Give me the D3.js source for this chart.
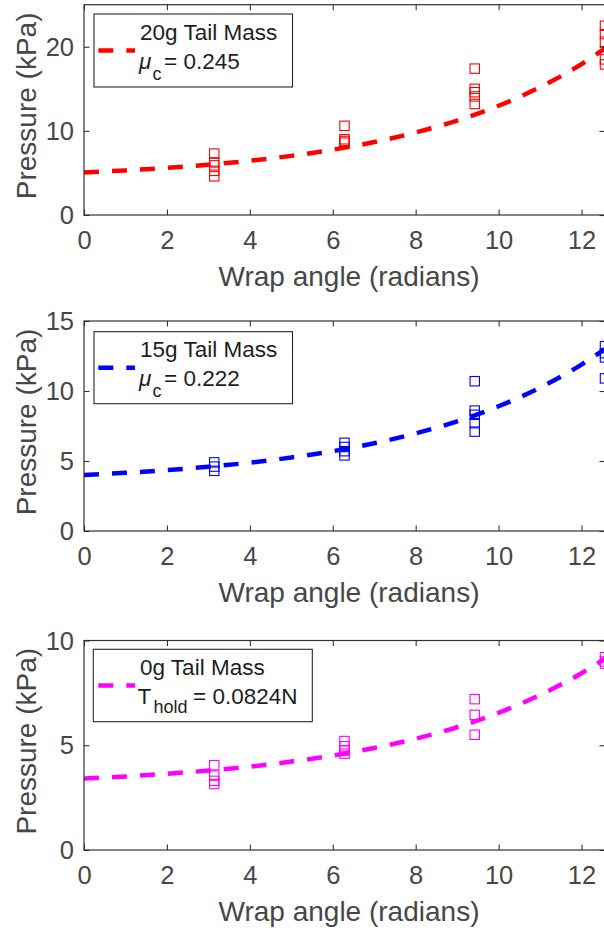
<!DOCTYPE html>
<html>
<head>
<meta charset="utf-8">
<script src="https://cdn.jsdelivr.net/npm/d3@7"></script>
<style>
  html, body { margin: 0; padding: 0; background: #fff; overflow: hidden; }
  svg { display: block; }
</style>
</head>
<body>
<svg id="fig" width="604" height="928"></svg>
<script>
// Wrap angles tested (π, 2π, 3π, 4π radians) and the x-axis limits / ticks
const wrapAngles = [3.1416, 6.2832, 9.4248, 12.5664];
const xLimits = [0, 12.5664];
const xTicks = [0, 2, 4, 6, 8, 10, 12];

// Measured pressures (kPa), one list per wrap angle
const pressure20g = [
  [7.3, 6.25, 5.9, 5.25, 4.6],
  [10.6, 9.0, 8.8, 8.6],
  [17.4, 15.0, 14.6, 14.1, 13.2],
  [22.5, 21.5, 20.6, 18.5, 17.9]
];
const pressure15g = [
  [4.9, 4.6, 4.3],
  [6.3, 6.0, 5.7, 5.4],
  [10.7, 8.6, 8.3, 7.7, 7.1],
  [13.2, 12.7, 12.4, 10.9]
];
const pressure0g = [
  [4.05, 3.55, 3.3, 3.15],
  [5.2, 4.95, 4.75, 4.6],
  [7.2, 6.45, 5.5],
  [9.2, 9.0, 8.9]
];

// Fitted model curves, sampled along the wrap angle
const fitAngles = [0, 1, 2, 3, 4, 5, 6, 7, 8, 9, 10, 11, 12, 12.5664];
const fit20g = [5.06, 5.30, 5.60, 5.98, 6.45, 7.03, 7.76, 8.67, 9.81, 11.22, 12.99, 15.20, 17.94, 19.80];
const fit15g = [4.00, 4.16, 4.35, 4.59, 4.88, 5.25, 5.70, 6.27, 6.97, 7.83, 8.91, 10.24, 11.89, 13.00];
const fit0g  = [3.41, 3.51, 3.64, 3.79, 3.98, 4.22, 4.51, 4.87, 5.31, 5.86, 6.55, 7.40, 8.44, 9.13];

// Y-axis limits and ticks per panel
const yMax = [25, 15, 10];
const yTicks20g = [0, 10, 20];
const yTicks15g = [0, 5, 10, 15];
const yTicks0g = [0, 5, 10];

// Legend text
const legendTitles = ["20g Tail Mass", "15g Tail Mass", "0g Tail Mass"];
const legendSymbols = ["\u03BC", "\u03BC", "T"];
const legendSubscripts = ["c", "c", "hold"];
const legendValues = ["= 0.245", "= 0.222", "= 0.0824N"];

const seriesColors = ["#ff0000", "#0000ff", "#ff00ff"];

// ---- layout ----
const FONT = "'Liberation Sans', Arial, Helvetica, sans-serif";
const TICK_FONT = 25.5, LABEL_FONT = 28, LEGEND_FONT = 22.5, SUB_FONT = 18;
const AXIS_COLOR = "#333333", TEXT_COLOR = "#474747", LEGEND_TEXT = "#1e1e1e";
const plotLeft = 84, plotRight = 605;

const panels = [
  { top: 4.7, bottom: 215, yMax: yMax[0], yTicks: yTicks20g, values: pressure20g, fit: fit20g,
    legend: { x: 94, y: 14, w: 198.5, h: 73, sym: 139, symItalic: true, sub: 152.5, subDy: 11, val: 164 } },
  { top: 321, bottom: 531, yMax: yMax[1], yTicks: yTicks15g, values: pressure15g, fit: fit15g,
    legend: { x: 94, y: 331.7, w: 198.5, h: 72, sym: 139, symItalic: true, sub: 152.5, subDy: 11, val: 164 } },
  { top: 640.5, bottom: 850, yMax: yMax[2], yTicks: yTicks0g, values: pressure0g, fit: fit0g,
    legend: { x: 93.3, y: 649.3, w: 219, h: 72.4, sym: 137.5, symItalic: false, sub: 153.5, subDy: 9.5, val: 193 } }
];

const svg = d3.select("#fig");
svg.append("rect").attr("width", 604).attr("height", 928).attr("fill", "#fff");

const x = d3.scaleLinear().domain(xLimits).range([plotLeft, plotRight]);

panels.forEach((p, i) => {
  const color = seriesColors[i];
  const y = d3.scaleLinear().domain([0, p.yMax]).range([p.bottom, p.top]);
  const g = svg.append("g");

  // data markers: open squares
  const pts = [];
  wrapAngles.forEach((a, k) => p.values[k].forEach(v => pts.push({ a, v })));
  const ms = 9.4;
  g.append("g").selectAll("rect")
    .data(pts).join("rect")
    .attr("x", d => x(d.a) - ms / 2)
    .attr("y", d => y(d.v) - ms / 2)
    .attr("width", ms).attr("height", ms)
    .attr("fill", "none")
    .attr("stroke", color)
    .attr("stroke-width", 1.1);

  // fitted curve, dashed
  const line = d3.line()
    .x(d => x(d[0]))
    .y(d => y(d[1]))
    .curve(d3.curveMonotoneX);
  g.append("path")
    .datum(fitAngles.map((a, k) => [a, p.fit[k]]))
    .attr("d", line)
    .attr("fill", "none")
    .attr("stroke", color)
    .attr("stroke-width", 4.5)
    .attr("stroke-dasharray", "15,13");

  // axes (inward ticks on all four sides)
  const tick = 5.5;
  const ax = [
    g.append("g").attr("transform", `translate(0,${p.bottom})`)
      .call(d3.axisBottom(x).tickValues(xTicks).tickSizeInner(-tick).tickSizeOuter(0).tickPadding(15.4)),
    g.append("g").attr("transform", `translate(0,${p.top})`)
      .call(d3.axisTop(x).tickValues(xTicks).tickSizeInner(-tick).tickSizeOuter(0).tickFormat("")),
    g.append("g").attr("transform", `translate(${plotLeft},0)`)
      .call(d3.axisLeft(y).tickValues(p.yTicks).tickSizeInner(-tick).tickSizeOuter(0).tickPadding(10)),
    g.append("g").attr("transform", `translate(${plotRight},0)`)
      .call(d3.axisRight(y).tickValues(p.yTicks).tickSizeInner(-tick).tickSizeOuter(0).tickFormat(""))
  ];
  ax.forEach(a => {
    a.select(".domain").remove();
    a.selectAll(".tick line").attr("stroke", AXIS_COLOR).attr("stroke-width", 1.1);
    a.selectAll(".tick text")
      .attr("fill", TEXT_COLOR)
      .style("font-family", FONT)
      .style("font-size", TICK_FONT + "px");
  });
  ax[2].selectAll(".tick text").attr("dy", "0.34em");

  g.append("rect")
    .attr("x", plotLeft).attr("y", p.top)
    .attr("width", plotRight - plotLeft).attr("height", p.bottom - p.top)
    .attr("fill", "none").attr("stroke", AXIS_COLOR).attr("stroke-width", 1.2);

  // axis labels
  g.append("text")
    .attr("x", 349).attr("y", p.bottom + 70.7)
    .attr("text-anchor", "middle")
    .attr("fill", TEXT_COLOR)
    .style("font-family", FONT).style("font-size", LABEL_FONT + "px")
    .text("Wrap angle (radians)");
  g.append("text")
    .attr("transform", `translate(35.5,${(p.top + p.bottom) / 2 - 4}) rotate(-90)`)
    .attr("text-anchor", "middle")
    .attr("fill", TEXT_COLOR)
    .style("font-family", FONT).style("font-size", LABEL_FONT + "px")
    .text("Pressure (kPa)");

  // legend
  const L = p.legend;
  const lg = g.append("g");
  lg.append("rect")
    .attr("x", L.x).attr("y", L.y).attr("width", L.w).attr("height", L.h)
    .attr("fill", "#fff").attr("stroke", "#262626").attr("stroke-width", 1.1);
  const cy = L.y + L.h / 2;
  lg.append("line")
    .attr("x1", 98.3).attr("x2", 135).attr("y1", cy).attr("y2", cy)
    .attr("stroke", color).attr("stroke-width", 4.5)
    .attr("stroke-dasharray", "15,13");
  const base1 = L.y + 25.7, base2 = L.y + 54.5;
  const txt = (xx, yy, s, size, italic) => lg.append("text")
    .attr("x", xx).attr("y", yy)
    .attr("fill", LEGEND_TEXT)
    .style("font-family", FONT).style("font-size", size + "px")
    .style("font-style", italic ? "italic" : "normal")
    .text(s);
  txt(140, base1, legendTitles[i], LEGEND_FONT, false);
  txt(L.sym, base2, legendSymbols[i], LEGEND_FONT, L.symItalic);
  txt(L.sub, base2 + L.subDy, legendSubscripts[i], SUB_FONT, false);
  txt(L.val, base2, legendValues[i], LEGEND_FONT, false);
});
</script>
</body>
</html>
